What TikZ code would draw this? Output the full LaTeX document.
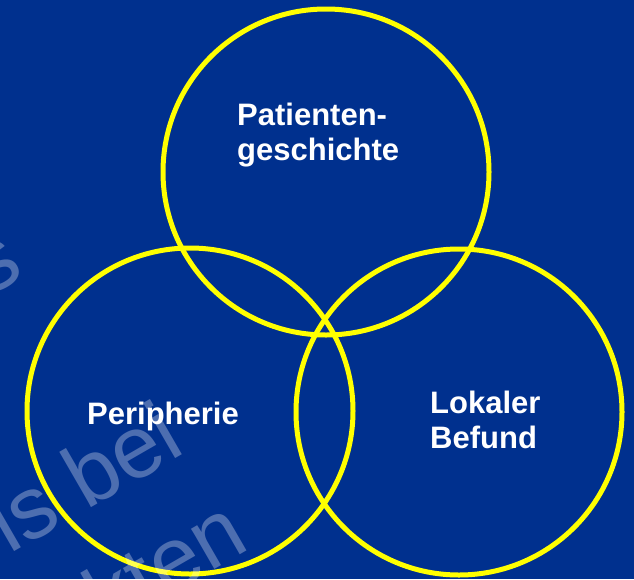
\documentclass[tikz,border=0pt]{standalone}
\usepackage{fontspec}
\setmainfont{Liberation Sans}
\definecolor{slideblue}{RGB}{0,48,142}
\definecolor{ringyellow}{RGB}{255,255,0}
\begin{document}
\begin{tikzpicture}[x=1pt,y=-1pt,
  ring/.style={draw=ringyellow,line width=5pt},
  label/.style={text=white,font=\fontsize{31}{35}\selectfont\bfseries,inner sep=0pt,align=left},
  wmark/.style={text=white,text opacity=0.3,font=\fontsize{88}{100}\selectfont,inner sep=0pt,rotate=30}]
  % slide background
  \fill[slideblue] (0,0) rectangle (634,579);
  \useasboundingbox (0,0) rectangle (634,579);
  \clip (0,0) rectangle (634,579);
  % three overlapping circles
  \node[ring,circle,minimum size=326pt,inner sep=0pt] (hist) at (326,172) {};
  \node[ring,circle,minimum size=326pt,inner sep=0pt] (peri) at (190,411) {};
  \node[ring,circle,minimum size=326pt,inner sep=0pt] (lok) at (459,412) {};
  % circle labels
  \node[label,anchor=west] (thist) at (237,135) {Patienten-\\geschichte};
  \node[label,anchor=west] (tperi) at (87,416) {Peripherie};
  \node[label,anchor=west] (tlok) at (430,420) {Lokaler\\Befund};
  % faint watermark lettering
  \node[wmark,anchor=center] (w1) at (-4,266) {s};
  \node[wmark,anchor=base east] (w2) at (188,452) {is bei};
  \node[wmark,anchor=base east] (w3) at (252,548) {kten};
\end{tikzpicture}
\end{document}
